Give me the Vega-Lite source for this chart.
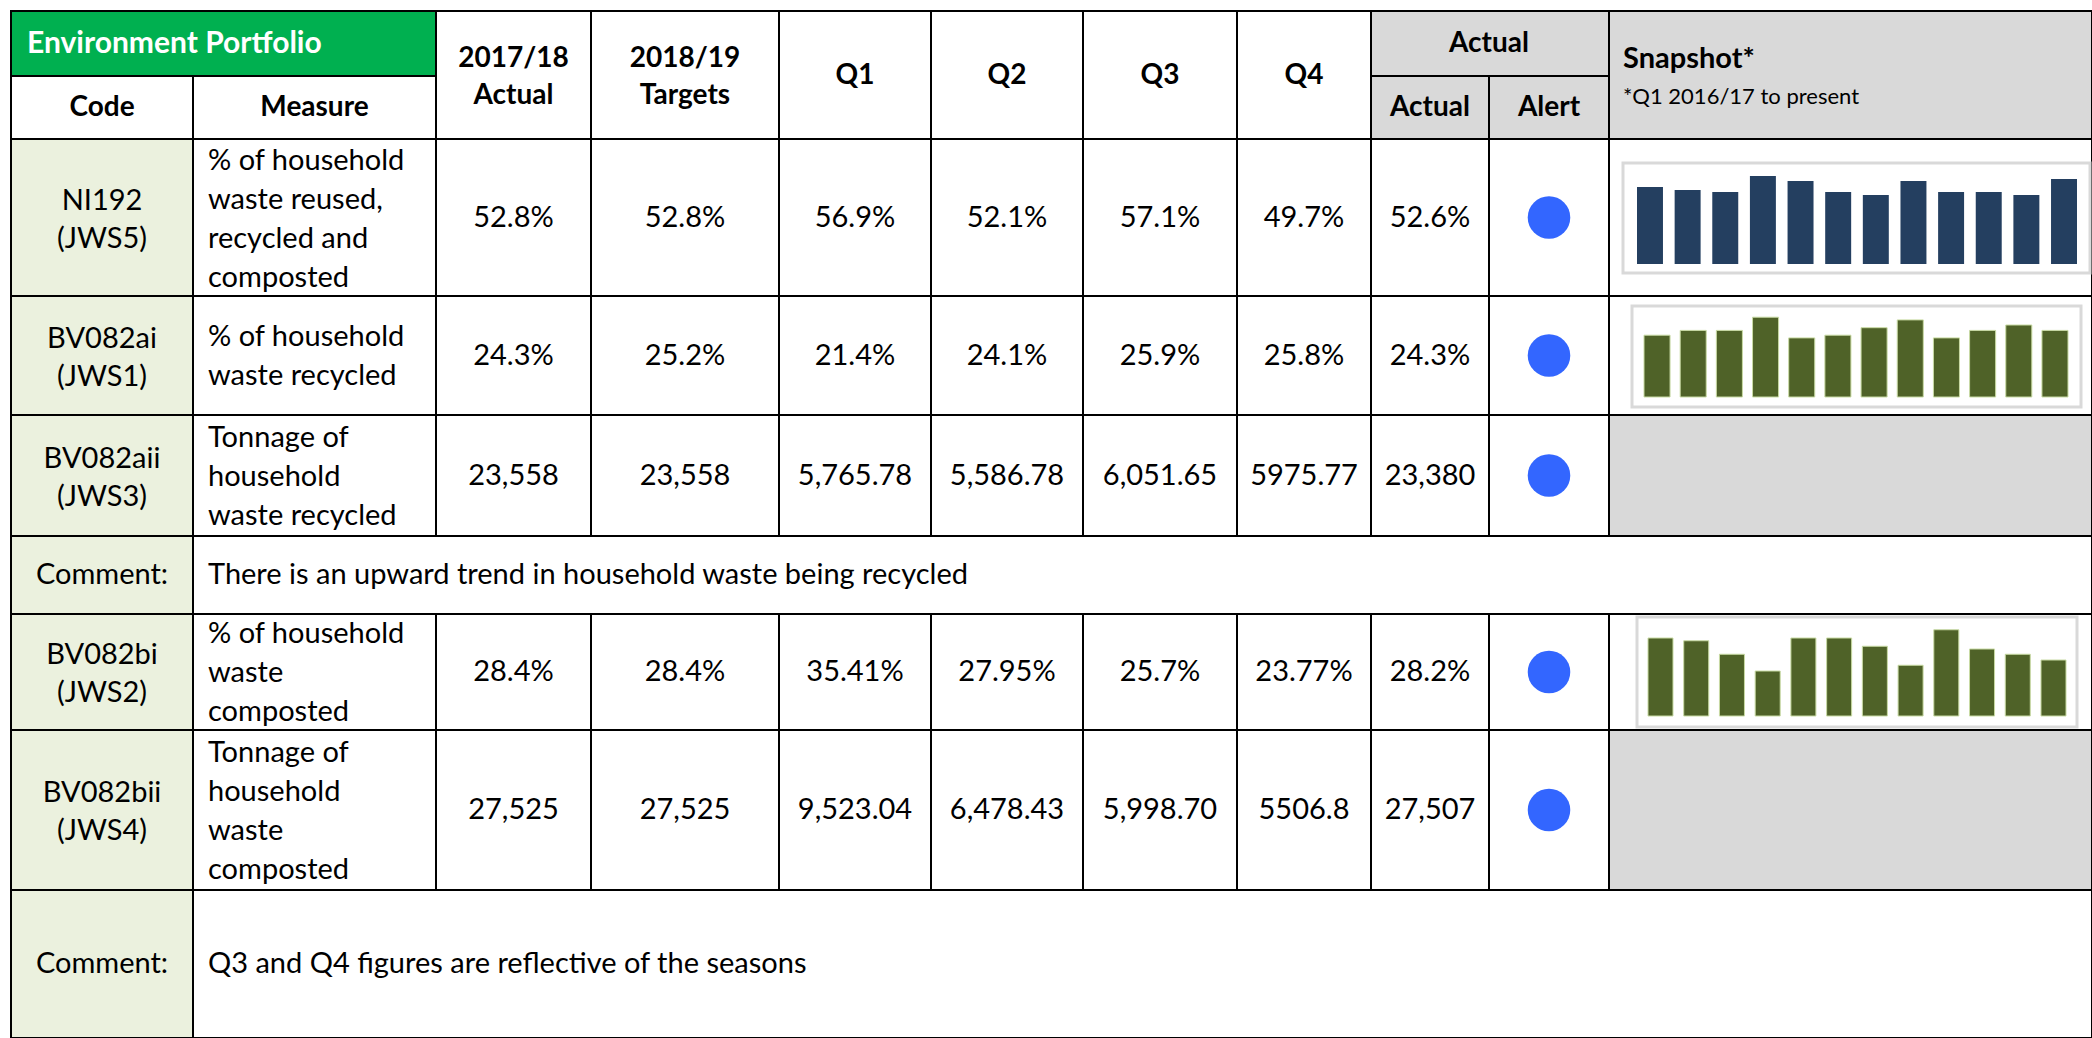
{
  "$schema": "https://vega.github.io/schema/vega-lite/v6.json",
  "width": 2092,
  "height": 1038,
  "padding": 0,
  "autosize": {"type": "none"},
  "background": "#ffffff",
  "config": {"view": {"stroke": null}, "font": "Lato", "text": {"font": "Lato"}},
  "datasets": {
    "cells": [
      {"c0": 0, "c1": 2, "r0": 0, "r1": 1, "zone": "title"},
      {"c0": 0, "c1": 1, "r0": 1, "r1": 2, "zone": "plain"},
      {"c0": 1, "c1": 2, "r0": 1, "r1": 2, "zone": "plain"},
      {"c0": 2, "c1": 3, "r0": 0, "r1": 2, "zone": "plain"},
      {"c0": 3, "c1": 4, "r0": 0, "r1": 2, "zone": "plain"},
      {"c0": 4, "c1": 5, "r0": 0, "r1": 2, "zone": "plain"},
      {"c0": 5, "c1": 6, "r0": 0, "r1": 2, "zone": "plain"},
      {"c0": 6, "c1": 7, "r0": 0, "r1": 2, "zone": "plain"},
      {"c0": 7, "c1": 8, "r0": 0, "r1": 2, "zone": "plain"},
      {"c0": 8, "c1": 10, "r0": 0, "r1": 1, "zone": "header"},
      {"c0": 8, "c1": 9, "r0": 1, "r1": 2, "zone": "header"},
      {"c0": 9, "c1": 10, "r0": 1, "r1": 2, "zone": "header"},
      {"c0": 10, "c1": 11, "r0": 0, "r1": 2, "zone": "header"},

      {"c0": 0, "c1": 1, "r0": 2, "r1": 3, "zone": "code"},
      {"c0": 1, "c1": 2, "r0": 2, "r1": 3, "zone": "plain"},
      {"c0": 2, "c1": 3, "r0": 2, "r1": 3, "zone": "plain"},
      {"c0": 3, "c1": 4, "r0": 2, "r1": 3, "zone": "plain"},
      {"c0": 4, "c1": 5, "r0": 2, "r1": 3, "zone": "plain"},
      {"c0": 5, "c1": 6, "r0": 2, "r1": 3, "zone": "plain"},
      {"c0": 6, "c1": 7, "r0": 2, "r1": 3, "zone": "plain"},
      {"c0": 7, "c1": 8, "r0": 2, "r1": 3, "zone": "plain"},
      {"c0": 8, "c1": 9, "r0": 2, "r1": 3, "zone": "plain"},
      {"c0": 9, "c1": 10, "r0": 2, "r1": 3, "zone": "plain"},
      {"c0": 10, "c1": 11, "r0": 2, "r1": 3, "zone": "plain"},

      {"c0": 0, "c1": 1, "r0": 3, "r1": 4, "zone": "code"},
      {"c0": 1, "c1": 2, "r0": 3, "r1": 4, "zone": "plain"},
      {"c0": 2, "c1": 3, "r0": 3, "r1": 4, "zone": "plain"},
      {"c0": 3, "c1": 4, "r0": 3, "r1": 4, "zone": "plain"},
      {"c0": 4, "c1": 5, "r0": 3, "r1": 4, "zone": "plain"},
      {"c0": 5, "c1": 6, "r0": 3, "r1": 4, "zone": "plain"},
      {"c0": 6, "c1": 7, "r0": 3, "r1": 4, "zone": "plain"},
      {"c0": 7, "c1": 8, "r0": 3, "r1": 4, "zone": "plain"},
      {"c0": 8, "c1": 9, "r0": 3, "r1": 4, "zone": "plain"},
      {"c0": 9, "c1": 10, "r0": 3, "r1": 4, "zone": "plain"},
      {"c0": 10, "c1": 11, "r0": 3, "r1": 4, "zone": "plain"},

      {"c0": 0, "c1": 1, "r0": 4, "r1": 5, "zone": "code"},
      {"c0": 1, "c1": 2, "r0": 4, "r1": 5, "zone": "plain"},
      {"c0": 2, "c1": 3, "r0": 4, "r1": 5, "zone": "plain"},
      {"c0": 3, "c1": 4, "r0": 4, "r1": 5, "zone": "plain"},
      {"c0": 4, "c1": 5, "r0": 4, "r1": 5, "zone": "plain"},
      {"c0": 5, "c1": 6, "r0": 4, "r1": 5, "zone": "plain"},
      {"c0": 6, "c1": 7, "r0": 4, "r1": 5, "zone": "plain"},
      {"c0": 7, "c1": 8, "r0": 4, "r1": 5, "zone": "plain"},
      {"c0": 8, "c1": 9, "r0": 4, "r1": 5, "zone": "plain"},
      {"c0": 9, "c1": 10, "r0": 4, "r1": 5, "zone": "plain"},
      {"c0": 10, "c1": 11, "r0": 4, "r1": 5, "zone": "header"},

      {"c0": 0, "c1": 1, "r0": 5, "r1": 6, "zone": "code"},
      {"c0": 1, "c1": 11, "r0": 5, "r1": 6, "zone": "plain"},

      {"c0": 0, "c1": 1, "r0": 6, "r1": 7, "zone": "code"},
      {"c0": 1, "c1": 2, "r0": 6, "r1": 7, "zone": "plain"},
      {"c0": 2, "c1": 3, "r0": 6, "r1": 7, "zone": "plain"},
      {"c0": 3, "c1": 4, "r0": 6, "r1": 7, "zone": "plain"},
      {"c0": 4, "c1": 5, "r0": 6, "r1": 7, "zone": "plain"},
      {"c0": 5, "c1": 6, "r0": 6, "r1": 7, "zone": "plain"},
      {"c0": 6, "c1": 7, "r0": 6, "r1": 7, "zone": "plain"},
      {"c0": 7, "c1": 8, "r0": 6, "r1": 7, "zone": "plain"},
      {"c0": 8, "c1": 9, "r0": 6, "r1": 7, "zone": "plain"},
      {"c0": 9, "c1": 10, "r0": 6, "r1": 7, "zone": "plain"},
      {"c0": 10, "c1": 11, "r0": 6, "r1": 7, "zone": "plain"},

      {"c0": 0, "c1": 1, "r0": 7, "r1": 8, "zone": "code"},
      {"c0": 1, "c1": 2, "r0": 7, "r1": 8, "zone": "plain"},
      {"c0": 2, "c1": 3, "r0": 7, "r1": 8, "zone": "plain"},
      {"c0": 3, "c1": 4, "r0": 7, "r1": 8, "zone": "plain"},
      {"c0": 4, "c1": 5, "r0": 7, "r1": 8, "zone": "plain"},
      {"c0": 5, "c1": 6, "r0": 7, "r1": 8, "zone": "plain"},
      {"c0": 6, "c1": 7, "r0": 7, "r1": 8, "zone": "plain"},
      {"c0": 7, "c1": 8, "r0": 7, "r1": 8, "zone": "plain"},
      {"c0": 8, "c1": 9, "r0": 7, "r1": 8, "zone": "plain"},
      {"c0": 9, "c1": 10, "r0": 7, "r1": 8, "zone": "plain"},
      {"c0": 10, "c1": 11, "r0": 7, "r1": 8, "zone": "header"},

      {"c0": 0, "c1": 1, "r0": 8, "r1": 9, "zone": "code"},
      {"c0": 1, "c1": 11, "r0": 8, "r1": 9, "zone": "plain"}
    ],
    "labels": [
      {"c0": 0, "c1": 2, "r0": 0, "r1": 1, "role": "title", "text": "Environment Portfolio"},
      {"c0": 0, "c1": 1, "r0": 1, "r1": 2, "role": "head", "text": "Code"},
      {"c0": 1, "c1": 2, "r0": 1, "r1": 2, "role": "head", "text": "Measure"},
      {"c0": 2, "c1": 3, "r0": 0, "r1": 2, "role": "head", "text": "2017/18\nActual"},
      {"c0": 3, "c1": 4, "r0": 0, "r1": 2, "role": "head", "text": "2018/19\nTargets"},
      {"c0": 4, "c1": 5, "r0": 0, "r1": 2, "role": "head", "text": "Q1"},
      {"c0": 5, "c1": 6, "r0": 0, "r1": 2, "role": "head", "text": "Q2"},
      {"c0": 6, "c1": 7, "r0": 0, "r1": 2, "role": "head", "text": "Q3"},
      {"c0": 7, "c1": 8, "r0": 0, "r1": 2, "role": "head", "text": "Q4"},
      {"c0": 8, "c1": 10, "r0": 0, "r1": 1, "role": "head", "text": "Actual"},
      {"c0": 8, "c1": 9, "r0": 1, "r1": 2, "role": "head", "text": "Actual"},
      {"c0": 9, "c1": 10, "r0": 1, "r1": 2, "role": "head", "text": "Alert"},
      {"c0": 10, "c1": 11, "r0": 0, "r1": 1, "role": "snap", "text": "Snapshot*"},
      {"c0": 10, "c1": 11, "r0": 1, "r1": 2, "role": "snapnote", "text": "*Q1 2016/17 to present"},

      {"c0": 0, "c1": 1, "r0": 2, "r1": 3, "role": "code", "text": "NI192\n(JWS5)"},
      {"c0": 0, "c1": 1, "r0": 3, "r1": 4, "role": "code", "text": "BV082ai\n(JWS1)"},
      {"c0": 0, "c1": 1, "r0": 4, "r1": 5, "role": "code", "text": "BV082aii\n(JWS3)"},
      {"c0": 0, "c1": 1, "r0": 5, "r1": 6, "role": "code", "text": "Comment:"},
      {"c0": 0, "c1": 1, "r0": 6, "r1": 7, "role": "code", "text": "BV082bi\n(JWS2)"},
      {"c0": 0, "c1": 1, "r0": 7, "r1": 8, "role": "code", "text": "BV082bii\n(JWS4)"},
      {"c0": 0, "c1": 1, "r0": 8, "r1": 9, "role": "code", "text": "Comment:"},

      {"c0": 1, "c1": 2, "r0": 2, "r1": 3, "role": "measure", "text": "% of household\nwaste reused,\nrecycled and\ncomposted"},
      {"c0": 1, "c1": 2, "r0": 3, "r1": 4, "role": "measure", "text": "% of household\nwaste recycled"},
      {"c0": 1, "c1": 2, "r0": 4, "r1": 5, "role": "measure", "text": "Tonnage of\nhousehold\nwaste recycled"},
      {"c0": 1, "c1": 11, "r0": 5, "r1": 6, "role": "measure", "text": "There is an upward trend in household waste being recycled"},
      {"c0": 1, "c1": 2, "r0": 6, "r1": 7, "role": "measure", "text": "% of household\nwaste\ncomposted"},
      {"c0": 1, "c1": 2, "r0": 7, "r1": 8, "role": "measure", "text": "Tonnage of\nhousehold\nwaste\ncomposted"},
      {"c0": 1, "c1": 11, "r0": 8, "r1": 9, "role": "measure", "text": "Q3 and Q4 figures are reflective of the seasons"},

      {"c0": 2, "c1": 3, "r0": 2, "r1": 3, "role": "cell", "text": "52.8%"},
      {"c0": 3, "c1": 4, "r0": 2, "r1": 3, "role": "cell", "text": "52.8%"},
      {"c0": 4, "c1": 5, "r0": 2, "r1": 3, "role": "cell", "text": "56.9%"},
      {"c0": 5, "c1": 6, "r0": 2, "r1": 3, "role": "cell", "text": "52.1%"},
      {"c0": 6, "c1": 7, "r0": 2, "r1": 3, "role": "cell", "text": "57.1%"},
      {"c0": 7, "c1": 8, "r0": 2, "r1": 3, "role": "cell", "text": "49.7%"},
      {"c0": 8, "c1": 9, "r0": 2, "r1": 3, "role": "cell", "text": "52.6%"},

      {"c0": 2, "c1": 3, "r0": 3, "r1": 4, "role": "cell", "text": "24.3%"},
      {"c0": 3, "c1": 4, "r0": 3, "r1": 4, "role": "cell", "text": "25.2%"},
      {"c0": 4, "c1": 5, "r0": 3, "r1": 4, "role": "cell", "text": "21.4%"},
      {"c0": 5, "c1": 6, "r0": 3, "r1": 4, "role": "cell", "text": "24.1%"},
      {"c0": 6, "c1": 7, "r0": 3, "r1": 4, "role": "cell", "text": "25.9%"},
      {"c0": 7, "c1": 8, "r0": 3, "r1": 4, "role": "cell", "text": "25.8%"},
      {"c0": 8, "c1": 9, "r0": 3, "r1": 4, "role": "cell", "text": "24.3%"},

      {"c0": 2, "c1": 3, "r0": 4, "r1": 5, "role": "cell", "text": "23,558"},
      {"c0": 3, "c1": 4, "r0": 4, "r1": 5, "role": "cell", "text": "23,558"},
      {"c0": 4, "c1": 5, "r0": 4, "r1": 5, "role": "cell", "text": "5,765.78"},
      {"c0": 5, "c1": 6, "r0": 4, "r1": 5, "role": "cell", "text": "5,586.78"},
      {"c0": 6, "c1": 7, "r0": 4, "r1": 5, "role": "cell", "text": "6,051.65"},
      {"c0": 7, "c1": 8, "r0": 4, "r1": 5, "role": "cell", "text": "5975.77"},
      {"c0": 8, "c1": 9, "r0": 4, "r1": 5, "role": "cell", "text": "23,380"},

      {"c0": 2, "c1": 3, "r0": 6, "r1": 7, "role": "cell", "text": "28.4%"},
      {"c0": 3, "c1": 4, "r0": 6, "r1": 7, "role": "cell", "text": "28.4%"},
      {"c0": 4, "c1": 5, "r0": 6, "r1": 7, "role": "cell", "text": "35.41%"},
      {"c0": 5, "c1": 6, "r0": 6, "r1": 7, "role": "cell", "text": "27.95%"},
      {"c0": 6, "c1": 7, "r0": 6, "r1": 7, "role": "cell", "text": "25.7%"},
      {"c0": 7, "c1": 8, "r0": 6, "r1": 7, "role": "cell", "text": "23.77%"},
      {"c0": 8, "c1": 9, "r0": 6, "r1": 7, "role": "cell", "text": "28.2%"},

      {"c0": 2, "c1": 3, "r0": 7, "r1": 8, "role": "cell", "text": "27,525"},
      {"c0": 3, "c1": 4, "r0": 7, "r1": 8, "role": "cell", "text": "27,525"},
      {"c0": 4, "c1": 5, "r0": 7, "r1": 8, "role": "cell", "text": "9,523.04"},
      {"c0": 5, "c1": 6, "r0": 7, "r1": 8, "role": "cell", "text": "6,478.43"},
      {"c0": 6, "c1": 7, "r0": 7, "r1": 8, "role": "cell", "text": "5,998.70"},
      {"c0": 7, "c1": 8, "r0": 7, "r1": 8, "role": "cell", "text": "5506.8"},
      {"c0": 8, "c1": 9, "r0": 7, "r1": 8, "role": "cell", "text": "27,507"}
    ],
    "alerts": [
      {"code": "NI192", "c0": 9, "c1": 10, "r0": 2, "r1": 3, "status": "On track"},
      {"code": "BV082ai", "c0": 9, "c1": 10, "r0": 3, "r1": 4, "status": "On track"},
      {"code": "BV082aii", "c0": 9, "c1": 10, "r0": 4, "r1": 5, "status": "On track"},
      {"code": "BV082bi", "c0": 9, "c1": 10, "r0": 6, "r1": 7, "status": "On track"},
      {"code": "BV082bii", "c0": 9, "c1": 10, "r0": 7, "r1": 8, "status": "On track"}
    ],
    "snapshots": [
      {"code": "NI192", "quarter": "16/17 Q1", "value": 51.3},
      {"code": "NI192", "quarter": "16/17 Q2", "value": 49.3},
      {"code": "NI192", "quarter": "16/17 Q3", "value": 48.0},
      {"code": "NI192", "quarter": "16/17 Q4", "value": 58.7},
      {"code": "NI192", "quarter": "17/18 Q1", "value": 55.3},
      {"code": "NI192", "quarter": "17/18 Q2", "value": 48.0},
      {"code": "NI192", "quarter": "17/18 Q3", "value": 46.0},
      {"code": "NI192", "quarter": "17/18 Q4", "value": 55.3},
      {"code": "NI192", "quarter": "18/19 Q1", "value": 48.0},
      {"code": "NI192", "quarter": "18/19 Q2", "value": 48.0},
      {"code": "NI192", "quarter": "18/19 Q3", "value": 46.0},
      {"code": "NI192", "quarter": "18/19 Q4", "value": 56.7},
      {"code": "BV082ai", "quarter": "16/17 Q1", "value": 20.6},
      {"code": "BV082ai", "quarter": "16/17 Q2", "value": 22.2},
      {"code": "BV082ai", "quarter": "16/17 Q3", "value": 22.2},
      {"code": "BV082ai", "quarter": "16/17 Q4", "value": 26.6},
      {"code": "BV082ai", "quarter": "17/18 Q1", "value": 19.7},
      {"code": "BV082ai", "quarter": "17/18 Q2", "value": 20.6},
      {"code": "BV082ai", "quarter": "17/18 Q3", "value": 23.1},
      {"code": "BV082ai", "quarter": "17/18 Q4", "value": 25.7},
      {"code": "BV082ai", "quarter": "18/19 Q1", "value": 19.7},
      {"code": "BV082ai", "quarter": "18/19 Q2", "value": 22.2},
      {"code": "BV082ai", "quarter": "18/19 Q3", "value": 24.0},
      {"code": "BV082ai", "quarter": "18/19 Q4", "value": 22.2},
      {"code": "BV082bi", "quarter": "16/17 Q1", "value": 31.2},
      {"code": "BV082bi", "quarter": "16/17 Q2", "value": 30.1},
      {"code": "BV082bi", "quarter": "16/17 Q3", "value": 24.7},
      {"code": "BV082bi", "quarter": "16/17 Q4", "value": 18.0},
      {"code": "BV082bi", "quarter": "17/18 Q1", "value": 31.2},
      {"code": "BV082bi", "quarter": "17/18 Q2", "value": 31.2},
      {"code": "BV082bi", "quarter": "17/18 Q3", "value": 27.9},
      {"code": "BV082bi", "quarter": "17/18 Q4", "value": 20.3},
      {"code": "BV082bi", "quarter": "18/19 Q1", "value": 34.5},
      {"code": "BV082bi", "quarter": "18/19 Q2", "value": 26.8},
      {"code": "BV082bi", "quarter": "18/19 Q3", "value": 24.7},
      {"code": "BV082bi", "quarter": "18/19 Q4", "value": 22.4}
    ]
  },
  "layer": [
    {
      "data": {"name": "cells"},
      "mark": {"type": "rect", "stroke": "#000000", "strokeWidth": 2},
      "encoding": {
        "x": {"field": "c0", "type": "quantitative", "axis": null, "scale": {"domain": [0,1,2,3,4,5,6,7,8,9,10,11], "range": [11,193,436,591,779,931,1083,1237,1371,1489,1609,2092], "zero": false, "nice": false}},
        "x2": {"field": "c1"},
        "y": {"field": "r0", "type": "quantitative", "axis": null, "scale": {"domain": [0,1,2,3,4,5,6,7,8,9], "range": [11,76,139,296,415,536,614,730,890,1038], "zero": false, "nice": false}},
        "y2": {"field": "r1"},
        "fill": {"field": "zone", "type": "nominal", "legend": null, "scale": {"domain": ["title", "header", "code", "plain"], "range": ["#00b050", "#d9d9d9", "#ebf1de", "#ffffff"]}}
      }
    },
    {
      "data": {"name": "cells"},
      "transform": [{"filter": "datum.c0 == 10 && datum.r0 == 2"}],
      "mark": {"type": "rect", "fill": "#ffffff", "stroke": "#d9d9d9", "strokeWidth": 3, "xOffset": 14, "x2Offset": -2, "yOffset": 24, "y2Offset": -23},
      "encoding": {
        "x": {"field": "c0", "type": "quantitative", "axis": null, "scale": {"domain": [0,1,2,3,4,5,6,7,8,9,10,11], "range": [11,193,436,591,779,931,1083,1237,1371,1489,1609,2092], "zero": false, "nice": false}},
        "x2": {"field": "c1"},
        "y": {"field": "r0", "type": "quantitative", "axis": null, "scale": {"domain": [0,1,2,3,4,5,6,7,8,9], "range": [11,76,139,296,415,536,614,730,890,1038], "zero": false, "nice": false}},
        "y2": {"field": "r1"}
      }
    },
    {
      "data": {"name": "cells"},
      "transform": [{"filter": "datum.c0 == 10 && datum.r0 == 3"}],
      "mark": {"type": "rect", "fill": "#ffffff", "stroke": "#d9d9d9", "strokeWidth": 3, "xOffset": 23, "x2Offset": -11, "yOffset": 10, "y2Offset": -8},
      "encoding": {
        "x": {"field": "c0", "type": "quantitative", "axis": null, "scale": {"domain": [0,1,2,3,4,5,6,7,8,9,10,11], "range": [11,193,436,591,779,931,1083,1237,1371,1489,1609,2092], "zero": false, "nice": false}},
        "x2": {"field": "c1"},
        "y": {"field": "r0", "type": "quantitative", "axis": null, "scale": {"domain": [0,1,2,3,4,5,6,7,8,9], "range": [11,76,139,296,415,536,614,730,890,1038], "zero": false, "nice": false}},
        "y2": {"field": "r1"}
      }
    },
    {
      "data": {"name": "cells"},
      "transform": [{"filter": "datum.c0 == 10 && datum.r0 == 6"}],
      "mark": {"type": "rect", "fill": "#ffffff", "stroke": "#d9d9d9", "strokeWidth": 3, "xOffset": 28, "x2Offset": -15, "yOffset": 3, "y2Offset": -3},
      "encoding": {
        "x": {"field": "c0", "type": "quantitative", "axis": null, "scale": {"domain": [0,1,2,3,4,5,6,7,8,9,10,11], "range": [11,193,436,591,779,931,1083,1237,1371,1489,1609,2092], "zero": false, "nice": false}},
        "x2": {"field": "c1"},
        "y": {"field": "r0", "type": "quantitative", "axis": null, "scale": {"domain": [0,1,2,3,4,5,6,7,8,9], "range": [11,76,139,296,415,536,614,730,890,1038], "zero": false, "nice": false}},
        "y2": {"field": "r1"}
      }
    },
    {
      "data": {"name": "snapshots"},
      "transform": [{"filter": "datum.code == 'NI192'"}],
      "mark": {"type": "bar", "color": "#243f60"},
      "encoding": {
        "x": {"field": "quarter", "type": "ordinal", "axis": null, "scale": {"domain": ["16/17 Q1","16/17 Q2","16/17 Q3","16/17 Q4","17/18 Q1","17/18 Q2","17/18 Q3","17/18 Q4","18/19 Q1","18/19 Q2","18/19 Q3","18/19 Q4"], "range": [1637, 2077], "paddingInner": 0.31, "paddingOuter": 0}},
        "y": {"field": "value", "type": "quantitative", "axis": null, "scale": {"domain": [0, 60], "range": [264, 174], "nice": false}}
      }
    },
    {
      "data": {"name": "snapshots"},
      "transform": [{"filter": "datum.code == 'BV082ai'"}],
      "mark": {"type": "bar", "color": "#4f6228", "stroke": "#c9dba4", "strokeWidth": 1},
      "encoding": {
        "x": {"field": "quarter", "type": "ordinal", "axis": null, "scale": {"domain": ["16/17 Q1","16/17 Q2","16/17 Q3","16/17 Q4","17/18 Q1","17/18 Q2","17/18 Q3","17/18 Q4","18/19 Q1","18/19 Q2","18/19 Q3","18/19 Q4"], "range": [1644, 2068], "paddingInner": 0.28, "paddingOuter": 0}},
        "y": {"field": "value", "type": "quantitative", "axis": null, "scale": {"domain": [0, 30], "range": [397, 307], "nice": false}}
      }
    },
    {
      "data": {"name": "snapshots"},
      "transform": [{"filter": "datum.code == 'BV082bi'"}],
      "mark": {"type": "bar", "color": "#4f6228", "stroke": "#c9dba4", "strokeWidth": 1},
      "encoding": {
        "x": {"field": "quarter", "type": "ordinal", "axis": null, "scale": {"domain": ["16/17 Q1","16/17 Q2","16/17 Q3","16/17 Q4","17/18 Q1","17/18 Q2","17/18 Q3","17/18 Q4","18/19 Q1","18/19 Q2","18/19 Q3","18/19 Q4"], "range": [1648, 2066], "paddingInner": 0.30, "paddingOuter": 0}},
        "y": {"field": "value", "type": "quantitative", "axis": null, "scale": {"domain": [0, 40], "range": [716, 616], "nice": false}}
      }
    },
    {
      "data": {"name": "labels"},
      "transform": [{"filter": "datum.role == 'title'"}, {"calculate": "(datum.r0 + datum.r1) / 2", "as": "ym"}],
      "mark": {"type": "text", "align": "left", "baseline": "middle", "dx": 16, "font": "Lato", "fontWeight": "bold", "fontSize": 30, "color": "#ffffff"},
      "encoding": {
        "x": {"field": "c0", "type": "quantitative", "axis": null, "scale": {"domain": [0,1,2,3,4,5,6,7,8,9,10,11], "range": [11,193,436,591,779,931,1083,1237,1371,1489,1609,2092], "zero": false, "nice": false}},
        "y": {"field": "ym", "type": "quantitative", "axis": null, "scale": {"domain": [0,1,2,3,4,5,6,7,8,9], "range": [11,76,139,296,415,536,614,730,890,1038], "zero": false, "nice": false}},
        "text": {"field": "text"}
      }
    },
    {
      "data": {"name": "labels"},
      "transform": [{"filter": "datum.role == 'head' && !test(/\\n/, datum.text)"}, {"calculate": "(datum.c0 + datum.c1) / 2", "as": "xm"}, {"calculate": "(datum.r0 + datum.r1) / 2", "as": "ym"}],
      "mark": {"type": "text", "align": "center", "baseline": "middle", "font": "Lato", "fontWeight": "bold", "fontSize": 28, "color": "#000000"},
      "encoding": {
        "x": {"field": "xm", "type": "quantitative", "axis": null, "scale": {"domain": [0,1,2,3,4,5,6,7,8,9,10,11], "range": [11,193,436,591,779,931,1083,1237,1371,1489,1609,2092], "zero": false, "nice": false}},
        "y": {"field": "ym", "type": "quantitative", "axis": null, "scale": {"domain": [0,1,2,3,4,5,6,7,8,9], "range": [11,76,139,296,415,536,614,730,890,1038], "zero": false, "nice": false}},
        "text": {"field": "text"}
      }
    },
    {
      "data": {"name": "labels"},
      "transform": [{"filter": "datum.role == 'head' && test(/\\n/, datum.text)"}, {"calculate": "(datum.c0 + datum.c1) / 2", "as": "xm"}, {"calculate": "(datum.r0 + datum.r1) / 2", "as": "ym"}],
      "mark": {"type": "text", "align": "center", "baseline": "middle", "lineBreak": "\n", "lineHeight": 37, "dy": -17, "font": "Lato", "fontWeight": "bold", "fontSize": 28, "color": "#000000"},
      "encoding": {
        "x": {"field": "xm", "type": "quantitative", "axis": null, "scale": {"domain": [0,1,2,3,4,5,6,7,8,9,10,11], "range": [11,193,436,591,779,931,1083,1237,1371,1489,1609,2092], "zero": false, "nice": false}},
        "y": {"field": "ym", "type": "quantitative", "axis": null, "scale": {"domain": [0,1,2,3,4,5,6,7,8,9], "range": [11,76,139,296,415,536,614,730,890,1038], "zero": false, "nice": false}},
        "text": {"field": "text"}
      }
    },
    {
      "data": {"name": "labels"},
      "transform": [{"filter": "datum.role == 'snap'"}, {"calculate": "(datum.r0 + datum.r1) / 2", "as": "ym"}],
      "mark": {"type": "text", "align": "left", "baseline": "middle", "dx": 14, "dy": 15, "font": "Lato", "fontWeight": "bold", "fontSize": 29, "color": "#000000"},
      "encoding": {
        "x": {"field": "c0", "type": "quantitative", "axis": null, "scale": {"domain": [0,1,2,3,4,5,6,7,8,9,10,11], "range": [11,193,436,591,779,931,1083,1237,1371,1489,1609,2092], "zero": false, "nice": false}},
        "y": {"field": "ym", "type": "quantitative", "axis": null, "scale": {"domain": [0,1,2,3,4,5,6,7,8,9], "range": [11,76,139,296,415,536,614,730,890,1038], "zero": false, "nice": false}},
        "text": {"field": "text"}
      }
    },
    {
      "data": {"name": "labels"},
      "transform": [{"filter": "datum.role == 'snapnote'"}, {"calculate": "(datum.r0 + datum.r1) / 2", "as": "ym"}],
      "mark": {"type": "text", "align": "left", "baseline": "middle", "dx": 14, "dy": -11, "font": "Lato", "fontSize": 22, "color": "#000000"},
      "encoding": {
        "x": {"field": "c0", "type": "quantitative", "axis": null, "scale": {"domain": [0,1,2,3,4,5,6,7,8,9,10,11], "range": [11,193,436,591,779,931,1083,1237,1371,1489,1609,2092], "zero": false, "nice": false}},
        "y": {"field": "ym", "type": "quantitative", "axis": null, "scale": {"domain": [0,1,2,3,4,5,6,7,8,9], "range": [11,76,139,296,415,536,614,730,890,1038], "zero": false, "nice": false}},
        "text": {"field": "text"}
      }
    },
    {
      "data": {"name": "labels"},
      "transform": [{"filter": "(datum.role == 'code' || datum.role == 'cell') && !test(/\\n/, datum.text)"}, {"calculate": "(datum.c0 + datum.c1) / 2", "as": "xm"}, {"calculate": "(datum.r0 + datum.r1) / 2", "as": "ym"}],
      "mark": {"type": "text", "align": "center", "baseline": "middle", "font": "Lato", "fontSize": 29, "color": "#000000"},
      "encoding": {
        "x": {"field": "xm", "type": "quantitative", "axis": null, "scale": {"domain": [0,1,2,3,4,5,6,7,8,9,10,11], "range": [11,193,436,591,779,931,1083,1237,1371,1489,1609,2092], "zero": false, "nice": false}},
        "y": {"field": "ym", "type": "quantitative", "axis": null, "scale": {"domain": [0,1,2,3,4,5,6,7,8,9], "range": [11,76,139,296,415,536,614,730,890,1038], "zero": false, "nice": false}},
        "text": {"field": "text"}
      }
    },
    {
      "data": {"name": "labels"},
      "transform": [{"filter": "datum.role == 'code' && test(/\\n/, datum.text)"}, {"calculate": "(datum.c0 + datum.c1) / 2", "as": "xm"}, {"calculate": "(datum.r0 + datum.r1) / 2", "as": "ym"}],
      "mark": {"type": "text", "align": "center", "baseline": "middle", "lineBreak": "\n", "lineHeight": 38, "dy": -17, "font": "Lato", "fontSize": 29, "color": "#000000"},
      "encoding": {
        "x": {"field": "xm", "type": "quantitative", "axis": null, "scale": {"domain": [0,1,2,3,4,5,6,7,8,9,10,11], "range": [11,193,436,591,779,931,1083,1237,1371,1489,1609,2092], "zero": false, "nice": false}},
        "y": {"field": "ym", "type": "quantitative", "axis": null, "scale": {"domain": [0,1,2,3,4,5,6,7,8,9], "range": [11,76,139,296,415,536,614,730,890,1038], "zero": false, "nice": false}},
        "text": {"field": "text"}
      }
    },
    {
      "data": {"name": "labels"},
      "transform": [{"filter": "datum.role == 'measure' && !test(/\\n/, datum.text)"}, {"calculate": "(datum.r0 + datum.r1) / 2", "as": "ym"}],
      "mark": {"type": "text", "align": "left", "baseline": "middle", "dx": 15, "font": "Lato", "fontSize": 29, "color": "#000000"},
      "encoding": {
        "x": {"field": "c0", "type": "quantitative", "axis": null, "scale": {"domain": [0,1,2,3,4,5,6,7,8,9,10,11], "range": [11,193,436,591,779,931,1083,1237,1371,1489,1609,2092], "zero": false, "nice": false}},
        "y": {"field": "ym", "type": "quantitative", "axis": null, "scale": {"domain": [0,1,2,3,4,5,6,7,8,9], "range": [11,76,139,296,415,536,614,730,890,1038], "zero": false, "nice": false}},
        "text": {"field": "text"}
      }
    },
    {
      "data": {"name": "labels"},
      "transform": [{"filter": "datum.role == 'measure' && test(/^[^\\n]*\\n[^\\n]*$/, datum.text)"}, {"calculate": "(datum.r0 + datum.r1) / 2", "as": "ym"}],
      "mark": {"type": "text", "align": "left", "baseline": "middle", "dx": 15, "dy": -19, "lineBreak": "\n", "lineHeight": 39, "font": "Lato", "fontSize": 29, "color": "#000000"},
      "encoding": {
        "x": {"field": "c0", "type": "quantitative", "axis": null, "scale": {"domain": [0,1,2,3,4,5,6,7,8,9,10,11], "range": [11,193,436,591,779,931,1083,1237,1371,1489,1609,2092], "zero": false, "nice": false}},
        "y": {"field": "ym", "type": "quantitative", "axis": null, "scale": {"domain": [0,1,2,3,4,5,6,7,8,9], "range": [11,76,139,296,415,536,614,730,890,1038], "zero": false, "nice": false}},
        "text": {"field": "text"}
      }
    },
    {
      "data": {"name": "labels"},
      "transform": [{"filter": "datum.role == 'measure' && test(/^[^\\n]*\\n[^\\n]*\\n[^\\n]*$/, datum.text)"}, {"calculate": "(datum.r0 + datum.r1) / 2", "as": "ym"}],
      "mark": {"type": "text", "align": "left", "baseline": "middle", "dx": 15, "dy": -38, "lineBreak": "\n", "lineHeight": 39, "font": "Lato", "fontSize": 29, "color": "#000000"},
      "encoding": {
        "x": {"field": "c0", "type": "quantitative", "axis": null, "scale": {"domain": [0,1,2,3,4,5,6,7,8,9,10,11], "range": [11,193,436,591,779,931,1083,1237,1371,1489,1609,2092], "zero": false, "nice": false}},
        "y": {"field": "ym", "type": "quantitative", "axis": null, "scale": {"domain": [0,1,2,3,4,5,6,7,8,9], "range": [11,76,139,296,415,536,614,730,890,1038], "zero": false, "nice": false}},
        "text": {"field": "text"}
      }
    },
    {
      "data": {"name": "labels"},
      "transform": [{"filter": "datum.role == 'measure' && test(/^[^\\n]*\\n[^\\n]*\\n[^\\n]*\\n[^\\n]*$/, datum.text)"}, {"calculate": "(datum.r0 + datum.r1) / 2", "as": "ym"}],
      "mark": {"type": "text", "align": "left", "baseline": "middle", "dx": 15, "dy": -57, "lineBreak": "\n", "lineHeight": 39, "font": "Lato", "fontSize": 29, "color": "#000000"},
      "encoding": {
        "x": {"field": "c0", "type": "quantitative", "axis": null, "scale": {"domain": [0,1,2,3,4,5,6,7,8,9,10,11], "range": [11,193,436,591,779,931,1083,1237,1371,1489,1609,2092], "zero": false, "nice": false}},
        "y": {"field": "ym", "type": "quantitative", "axis": null, "scale": {"domain": [0,1,2,3,4,5,6,7,8,9], "range": [11,76,139,296,415,536,614,730,890,1038], "zero": false, "nice": false}},
        "text": {"field": "text"}
      }
    },
    {
      "data": {"name": "alerts"},
      "transform": [{"calculate": "(datum.c0 + datum.c1) / 2", "as": "xm"}, {"calculate": "(datum.r0 + datum.r1) / 2", "as": "ym"}],
      "mark": {"type": "point", "shape": "circle", "filled": true, "opacity": 1, "size": 1810},
      "encoding": {
        "x": {"field": "xm", "type": "quantitative", "axis": null, "scale": {"domain": [0,1,2,3,4,5,6,7,8,9,10,11], "range": [11,193,436,591,779,931,1083,1237,1371,1489,1609,2092], "zero": false, "nice": false}},
        "y": {"field": "ym", "type": "quantitative", "axis": null, "scale": {"domain": [0,1,2,3,4,5,6,7,8,9], "range": [11,76,139,296,415,536,614,730,890,1038], "zero": false, "nice": false}},
        "color": {"field": "status", "type": "nominal", "legend": null, "scale": {"domain": ["On track"], "range": ["#3366ff"]}}
      }
    }
  ],
  "resolve": {"scale": {"x": "independent", "y": "independent", "color": "independent", "fill": "independent"}}
}
